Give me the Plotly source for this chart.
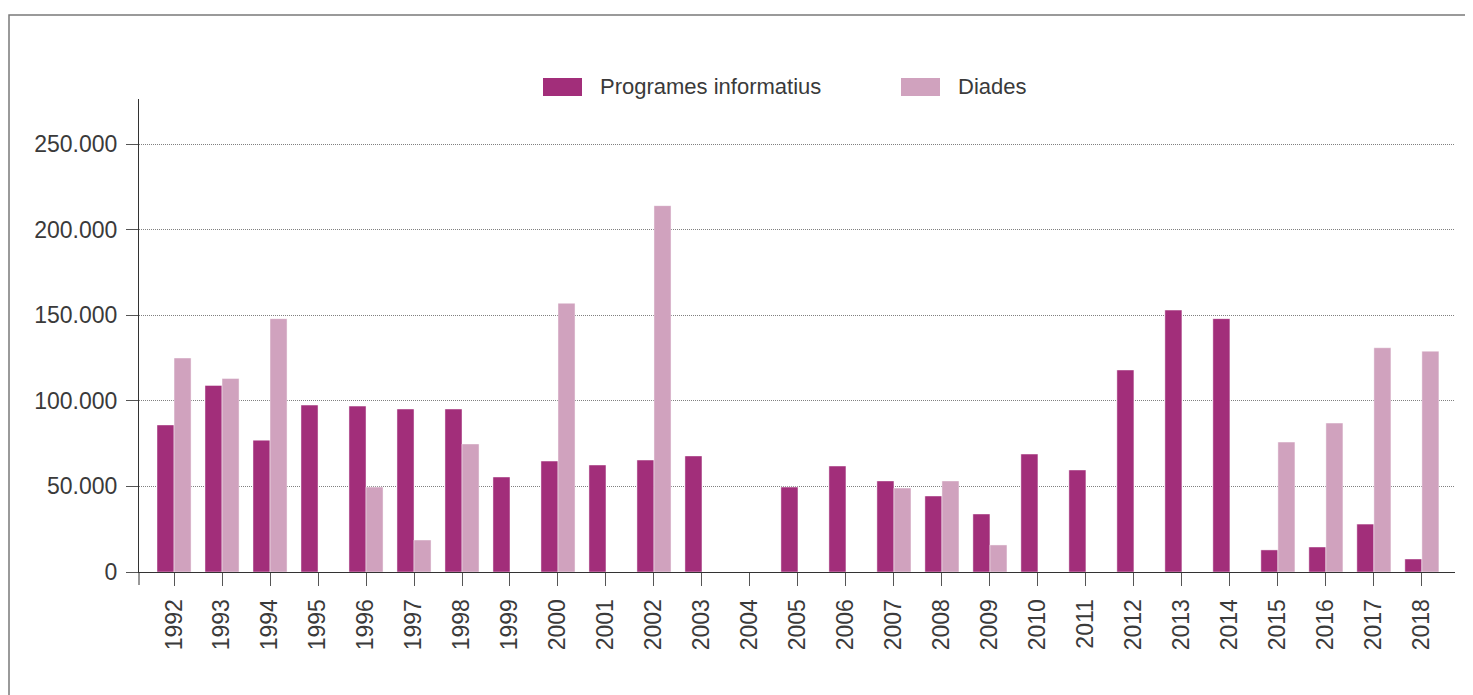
import plotly.graph_objects as go

years = [str(y) for y in range(1992, 2019)]
programes = [85900, 109000, 77000, 97500, 96900, 95200, 95200, 55500, 64800, 62500,
             65400, 67800, None, 49600, 61900, 53200, 44400, 33900, 68900, 59600,
             118000, 153000, 148000, 12900, 14600, 28000, 7600]
diades = [125000, 113000, 148000, None, 49600, 18700, 74800, None, 157000, None,
          214000, None, None, None, None, 49000, 53200, 15800, None, None,
          None, None, None, 75900, 87000, 131000, 129000]
series_names = ["Programes informatius", "Diades"]
colors = ["#A22E7A", "#D0A2BE"]
y_ticks = [0, 50000, 100000, 150000, 200000, 250000]
y_tick_labels = ["0", "50.000", "100.000", "150.000", "200.000", "250.000"]

OFF = 8  # page body margin
W, H = 1473 - OFF, 695 - OFF
L, R, T, B = 139 - OFF, 18, 99 - OFF, 123
pw, ph = W - L - R, H - T - B


def px(x):
    return (x - OFF - L) / pw


def py(y):
    return (H - B - (y - OFF)) / ph


font_family = "Liberation Sans, Arial, sans-serif"
txt_color = "#3a3a3a"

fig = go.Figure()
for name, vals, col in zip(series_names, [programes, diades], colors):
    fig.add_trace(go.Bar(
        x=years, y=vals, name=name, marker_color=col,
        marker_line=dict(color="rgba(255,255,255,0.45)", width=1),
        showlegend=False,
    ))

shapes = []
# outer frame
shapes.append(dict(type="rect", xref="paper", yref="paper",
                   x0=px(9), x1=px(1490), y0=py(710), y1=py(15),
                   line=dict(color="#7a7a7a", width=1.5), fillcolor="rgba(0,0,0,0)", layer="below"))
# y-axis extension below zero
shapes.append(dict(type="line", xref="paper", yref="paper",
                   x0=0, x1=0, y0=0, y1=py(585),
                   line=dict(color="#333333", width=1)))
annotations = []
legend_pos = [(543, 582, 598), (901, 940, 956)]
for (x0, x1, xt), name, col in zip(legend_pos, series_names, colors):
    shapes.append(dict(type="rect", xref="paper", yref="paper",
                       x0=px(x0), x1=px(x1), y0=py(96), y1=py(78),
                       line=dict(width=0), fillcolor=col))
    annotations.append(dict(xref="paper", yref="paper", x=px(xt), y=py(87),
                            text=name, showarrow=False, xanchor="left", yanchor="middle",
                            font=dict(family=font_family, size=22, color=txt_color)))

fig.update_layout(
    width=W, height=H,
    margin=dict(l=L, r=R, t=T, b=B, autoexpand=False),
    paper_bgcolor="white", plot_bgcolor="white",
    barmode="group", bargap=0.29, bargroupgap=0,
    font=dict(family=font_family, size=23, color=txt_color),
    shapes=shapes, annotations=annotations,
    xaxis=dict(
        type="category", range=[-0.73, 26.69],
        showline=True, linecolor="#333333", linewidth=1,
        ticks="outside", ticklen=13, tickcolor="#555555", tickwidth=1,
        tickangle=-90, showgrid=False, zeroline=False,
        ticklabelstandoff=4,
        tickfont=dict(size=23, color=txt_color),
    ),
    yaxis=dict(
        range=[0, 276300],
        tickvals=y_ticks, ticktext=y_tick_labels,
        showline=True, linecolor="#333333", linewidth=1,
        ticks="outside", ticklen=12, tickcolor="#555555", tickwidth=1,
        showgrid=True, gridcolor="#808080", gridwidth=1, griddash="1px,1px",
        zeroline=False,
        ticklabelstandoff=4,
        tickfont=dict(size=23, color=txt_color),
    ),
)

fig.write_html("out.html")
